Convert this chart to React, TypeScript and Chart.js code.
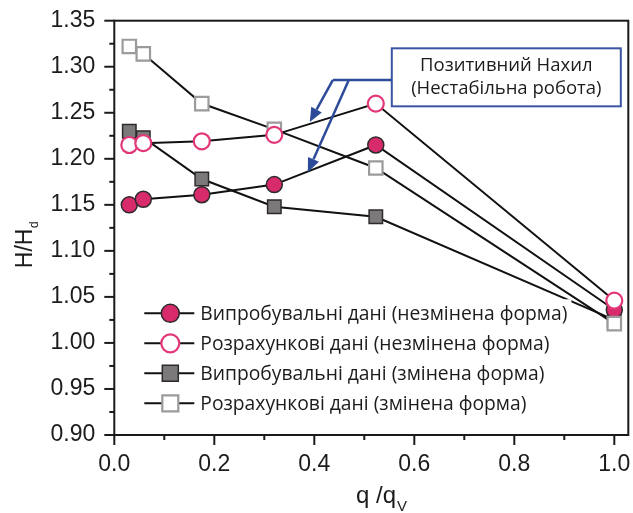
import { useEffect, useRef } from 'react';
import { Chart, registerables } from 'chart.js';

Chart.register(...registerables);

// ---- data ----
const qValues = [0.03, 0.058, 0.175, 0.32, 0.523, 1.0];
const expOriginal = [1.15, 1.156, 1.161, 1.172, 1.215, 1.036];
const calcOriginal = [1.215, 1.217, 1.219, 1.226, 1.26, 1.046];
const expModified = [1.23, 1.223, 1.178, 1.148, 1.137, 1.025];
const calcModified = [1.322, 1.314, 1.26, 1.232, 1.19, 1.021];

const seriesLabels = [
  'Випробувальні дані (незмінена форма)',
  'Розрахункові дані (незмінена форма)',
  'Випробувальні дані (змінена форма)',
  'Розрахункові дані (змінена форма)',
];

const xMajorTicks = [0.0, 0.2, 0.4, 0.6, 0.8, 1.0];
const yMajorTicks = [0.9, 0.95, 1.0, 1.05, 1.1, 1.15, 1.2, 1.25, 1.3, 1.35];

const annotationLines = ['Позитивний Нахил', '(Нестабільна робота)'];
const yTitleMain = 'H/H';
const yTitleSub = 'd';
const xTitleMain = 'q /q';
const xTitleSub = 'V';

// annotation geometry in data coordinates
const boxX = [0.555, 1.013];
const boxY = [1.32, 1.257];
const arrowRoot = { x: 0.437, y: 1.2855 };
const arrowRoot2 = { x: 0.469, y: 1.2855 };
const arrowTip1 = { x: 0.391, y: 1.24 };
const arrowTip2 = { x: 0.387, y: 1.1855 };

const PINK = '#d82b6c';
const PINK_LINE = '#e2387a';
const GRAY = '#7c797a';
const GRAY_LINE = '#9c9a9b';
const DARK = '#2e2a2c';
const BLUE = '#2d4b98';
const TEXT = '#1c1c1c';
const SANS = '"Liberation Sans", Arial, sans-serif';
const HUMAN = '"Open Sans", "Noto Sans", sans-serif';

type Marker = { style: 'circle' | 'rect'; fill: string; stroke: string; lw: number };
const markers: Marker[] = [
  { style: 'circle', fill: PINK, stroke: DARK, lw: 1.5 },
  { style: 'circle', fill: '#ffffff', stroke: PINK_LINE, lw: 2.2 },
  { style: 'rect', fill: GRAY, stroke: DARK, lw: 1.5 },
  { style: 'rect', fill: '#ffffff', stroke: GRAY_LINE, lw: 2.2 },
];

function drawMarker(ctx: CanvasRenderingContext2D, m: Marker, x: number, y: number, r: number) {
  ctx.beginPath();
  if (m.style === 'circle') ctx.arc(x, y, r, 0, Math.PI * 2);
  else ctx.rect(x - r, y - r, 2 * r, 2 * r);
  ctx.fillStyle = m.fill;
  ctx.fill();
  ctx.lineWidth = m.lw;
  ctx.strokeStyle = m.stroke;
  ctx.stroke();
}

function arrow(ctx: CanvasRenderingContext2D, x1: number, y1: number, x2: number, y2: number) {
  const ang = Math.atan2(y2 - y1, x2 - x1);
  const L = 14;
  const W = 6;
  const bx = x2 - L * Math.cos(ang);
  const by = y2 - L * Math.sin(ang);
  ctx.beginPath();
  ctx.moveTo(x1, y1);
  ctx.lineTo(bx, by);
  ctx.stroke();
  ctx.beginPath();
  ctx.moveTo(x2, y2);
  ctx.lineTo(bx + W * Math.sin(ang), by - W * Math.cos(ang));
  ctx.lineTo(bx - W * Math.sin(ang), by + W * Math.cos(ang));
  ctx.closePath();
  ctx.fill();
}

const decor = {
  id: 'decor',
  beforeDraw(chart: any) {
    const { ctx, width, height } = chart;
    ctx.save();
    ctx.fillStyle = '#ffffff';
    ctx.fillRect(0, 0, width, height);
    ctx.restore();
  },
  afterDraw(chart: any) {
    const { ctx, chartArea: a, scales } = chart;
    const xs = scales.x;
    const ys = scales.y;
    ctx.save();

    // frame
    ctx.strokeStyle = '#1a1a1a';
    ctx.lineWidth = 2;
    ctx.strokeRect(a.left, a.top, a.right - a.left, a.bottom - a.top);

    // ticks
    ctx.lineWidth = 2;
    const xt = (v: number, len: number) => {
      const p = xs.getPixelForValue(v);
      ctx.beginPath();
      ctx.moveTo(p, a.bottom);
      ctx.lineTo(p, a.bottom + len);
      ctx.stroke();
    };
    const yt = (v: number, len: number) => {
      const p = ys.getPixelForValue(v);
      ctx.beginPath();
      ctx.moveTo(a.left, p);
      ctx.lineTo(a.left - len, p);
      ctx.stroke();
    };
    xMajorTicks.forEach((v, i) => {
      xt(v, 10);
      if (i < xMajorTicks.length - 1) xt((v + xMajorTicks[i + 1]) / 2, 5);
    });
    yMajorTicks.forEach((v, i) => {
      yt(v, 10);
      if (i < yMajorTicks.length - 1) yt((v + yMajorTicks[i + 1]) / 2, 5);
    });

    // annotation box
    const bx1 = xs.getPixelForValue(boxX[0]);
    const bx2 = xs.getPixelForValue(boxX[1]);
    const by1 = ys.getPixelForValue(boxY[0]);
    const by2 = ys.getPixelForValue(boxY[1]);
    ctx.fillStyle = '#ffffff';
    ctx.fillRect(bx1, by1, bx2 - bx1, by2 - by1);
    ctx.strokeStyle = '#3a56a2';
    ctx.lineWidth = 2;
    ctx.strokeRect(bx1, by1, bx2 - bx1, by2 - by1);
    ctx.fillStyle = TEXT;
    ctx.font = `18.5px ${HUMAN}`;
    ctx.textAlign = 'center';
    ctx.textBaseline = 'middle';
    const cx = (bx1 + bx2) / 2;
    const cy = (by1 + by2) / 2;
    ctx.fillText(annotationLines[0], cx, cy - 11.5);
    ctx.fillText(annotationLines[1], cx, cy + 11.5);

    // arrows
    ctx.strokeStyle = BLUE;
    ctx.fillStyle = BLUE;
    ctx.lineWidth = 2.5;
    const rx = xs.getPixelForValue(arrowRoot.x);
    const ry = ys.getPixelForValue(arrowRoot.y);
    ctx.beginPath();
    ctx.moveTo(bx1, ry);
    ctx.lineTo(rx, ry);
    ctx.stroke();
    arrow(ctx, rx, ry, xs.getPixelForValue(arrowTip1.x), ys.getPixelForValue(arrowTip1.y));
    arrow(
      ctx,
      xs.getPixelForValue(arrowRoot2.x),
      ys.getPixelForValue(arrowRoot2.y),
      xs.getPixelForValue(arrowTip2.x),
      ys.getPixelForValue(arrowTip2.y)
    );

    // legend
    const lx = a.left;
    const rowTop = a.top + 292.6;
    ctx.font = `19.3px ${HUMAN}`;
    ctx.textAlign = 'left';
    ctx.textBaseline = 'middle';
    const maxW = Math.max(...seriesLabels.map((s) => ctx.measureText(s).width));
    ctx.fillStyle = '#ffffff';
    ctx.fillRect(lx + 84, rowTop - 14, maxW + 6, 30 * 3 + 28);
    seriesLabels.forEach((label, i) => {
      const yy = rowTop + i * 30;
      ctx.strokeStyle = '#111111';
      ctx.lineWidth = 2;
      ctx.beginPath();
      ctx.moveTo(lx + 30, yy);
      ctx.lineTo(lx + 80, yy);
      ctx.stroke();
      drawMarker(ctx, markers[i], lx + 56, yy, markers[i].style === 'circle' ? 9 : 8);
      ctx.fillStyle = TEXT;
      ctx.fillText(label, lx + 86, yy + 1);
    });

    // y title
    ctx.fillStyle = TEXT;
    ctx.textBaseline = 'alphabetic';
    ctx.textAlign = 'left';
    ctx.save();
    ctx.font = `23px ${SANS}`;
    const wMain = ctx.measureText(yTitleMain).width;
    ctx.font = `12px ${SANS}`;
    const wSub = ctx.measureText(yTitleSub).width;
    ctx.translate(31.5, 245);
    ctx.rotate(-Math.PI / 2);
    const start = -(wMain + wSub) / 2;
    ctx.font = `23px ${SANS}`;
    ctx.fillText(yTitleMain, start, 0);
    ctx.font = `12px ${SANS}`;
    ctx.fillText(yTitleSub, start + wMain + 0.5, 6);
    ctx.restore();

    // x title
    ctx.font = `24px ${SANS}`;
    const wxm = ctx.measureText(xTitleMain).width;
    ctx.font = `15px ${SANS}`;
    const wxs = ctx.measureText(xTitleSub).width;
    const sx = 381 - (wxm + wxs) / 2;
    ctx.font = `24px ${SANS}`;
    ctx.fillText(xTitleMain, sx, 503);
    ctx.font = `15px ${SANS}`;
    ctx.fillText(xTitleSub, sx + wxm + 1, 511);

    ctx.restore();
  },
};

function makeDataset(values: number[], i: number, order: number) {
  const m = markers[i];
  return {
    label: seriesLabels[i],
    data: qValues.map((q, k) => ({ x: q, y: values[k] })),
    borderColor: '#111111',
    borderWidth: 2,
    pointStyle: m.style,
    pointRadius: m.style === 'circle' ? 8 : 9.5,
    pointBackgroundColor: m.fill,
    pointBorderColor: m.stroke,
    pointBorderWidth: m.lw,
    fill: false,
    tension: 0,
    clip: false,
    order,
  };
}

export default function App() {
  const ref = useRef<HTMLCanvasElement | null>(null);
  useEffect(() => {
    if (!ref.current) return;
    const chart = new Chart(ref.current, {
      type: 'line',
      data: {
        datasets: [
          makeDataset(expOriginal, 0, 3),
          makeDataset(calcOriginal, 1, 1),
          makeDataset(expModified, 2, 4),
          makeDataset(calcModified, 3, 2),
        ] as any,
      },
      options: {
        responsive: false,
        animation: false,
        devicePixelRatio: 1,
        layout: { autoPadding: false, padding: { left: 0, right: 4.7, top: 20.7, bottom: 0 } },
        plugins: { legend: { display: false }, tooltip: { enabled: false } },
        scales: {
          x: {
            type: 'linear',
            min: 0,
            max: 1.028,
            afterBuildTicks: (s: any) => {
              s.ticks = xMajorTicks.map((v) => ({ value: v }));
            },
            afterFit: (s: any) => {
              s.height = 78;
              s.paddingLeft = 0;
              s.paddingRight = 0;
              s.paddingTop = 0;
              s.paddingBottom = 0;
            },
            grid: { display: false, drawTicks: false },
            border: { display: false },
            ticks: {
              autoSkip: false,
              maxRotation: 0,
              padding: 16,
              color: TEXT,
              font: { family: SANS, size: 23 },
              callback: (v: any) => Number(v).toFixed(1),
            },
          },
          y: {
            type: 'linear',
            min: 0.9,
            max: 1.35,
            afterBuildTicks: (s: any) => {
              s.ticks = yMajorTicks.map((v) => ({ value: v }));
            },
            afterFit: (s: any) => {
              s.width = 114.3;
              s.paddingLeft = 0;
              s.paddingRight = 0;
              s.paddingTop = 0;
              s.paddingBottom = 0;
            },
            grid: { display: false, drawTicks: false },
            border: { display: false },
            ticks: {
              autoSkip: false,
              padding: 19,
              color: TEXT,
              font: { family: SANS, size: 23 },
              callback: (v: any) => Number(v).toFixed(2),
            },
          },
        },
      },
      plugins: [decor],
    });
    return () => chart.destroy();
  }, []);
  return (
    <div style={{ position: 'absolute', left: 0, top: 0, width: 633, height: 513 }}>
      <canvas ref={ref} width={633} height={513} style={{ width: 633, height: 513, display: 'block' }} />
    </div>
  );
}
